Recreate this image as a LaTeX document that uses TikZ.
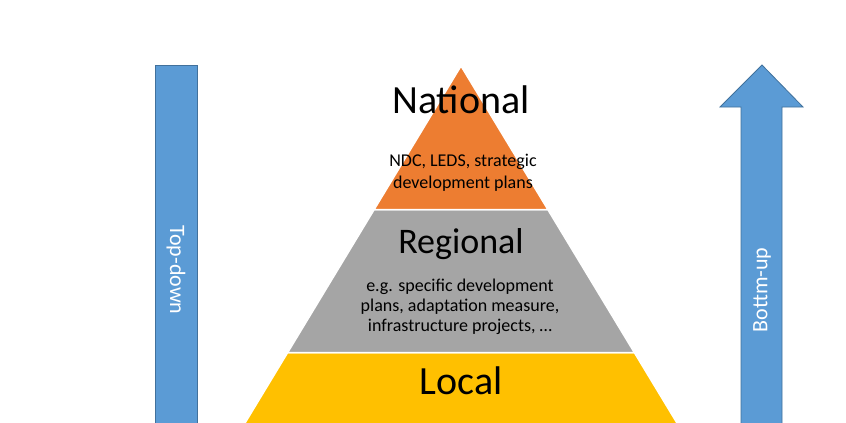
\documentclass[tikz,border=0pt]{standalone}
\usepackage{fontspec}
\setmainfont{Carlito}
\usepackage{xcolor}
\usetikzlibrary{calc}
\definecolor{barblue}{HTML}{5B9BD5}
\definecolor{bardark}{HTML}{41719C}
\definecolor{natorange}{HTML}{ED7D31}
\definecolor{reggray}{HTML}{A5A5A5}
\definecolor{locyellow}{HTML}{FFC000}

\begin{document}
\begin{tikzpicture}[x=1pt,y=-1pt,
        bar/.style={fill=barblue,draw=bardark,line width=.8pt},
        layer/.style={draw=white,line width=1.5pt},
        title/.style={anchor=base,inner sep=0pt,font=\fontsize{40}{48}\selectfont},
        sub/.style={anchor=base,inner sep=0pt,align=center,font=\fontsize{18}{22}\selectfont},
        flow/.style={text=white,inner sep=0pt,font=\fontsize{22}{26}\selectfont}]
        \useasboundingbox (0,0) rectangle (846,423);

        \coordinate (apex) at (461,66);
        \coordinate (nl) at (374.2,209.5);
        \coordinate (nr) at (547.8,209.5);
        \coordinate (rl) at (287.7,352.5);
        \coordinate (rr) at (634.3,352.5);
        \coordinate (ll) at (240.2,431);
        \coordinate (lr) at (681.8,431);

        \filldraw[layer,fill=locyellow] (rl)--(rr)--(lr)--(ll)--cycle;
        \filldraw[layer,fill=reggray] (nl)--(nr)--(rr)--(rl)--cycle;
        \filldraw[layer,fill=natorange] (apex)--(nr)--(nl)--cycle;

        \node[title] (national) at (461,113) {National};
        \node[sub] (nationaltext) at (463,188) {NDC,\ LEDS, strategic\\development plans};
        \node[title,font=\fontsize{36}{44}\selectfont] (regional) at (461,253) {Regional};
        \node[sub,font=\fontsize{18}{20}\selectfont] (regionaltext) at (460,331) {e.g. specific development\\plans, adaptation measure,\\infrastructure projects, \dots};
        \node[title] (local) at (461,394) {Local};

        \draw[bar] (155,430) rectangle (197,65);
        \node[flow,rotate=-90] (topdown) at (176,270) {Top-down};

        \draw[bar] (741,430)--(741,107)--(720,107)--(762,65)--(803,107)--(782,107)--(782,430)--cycle;
        \node[flow,rotate=90] (bottomup) at (762,290) {Bottm-up};
    \end{tikzpicture}
\end{document}
